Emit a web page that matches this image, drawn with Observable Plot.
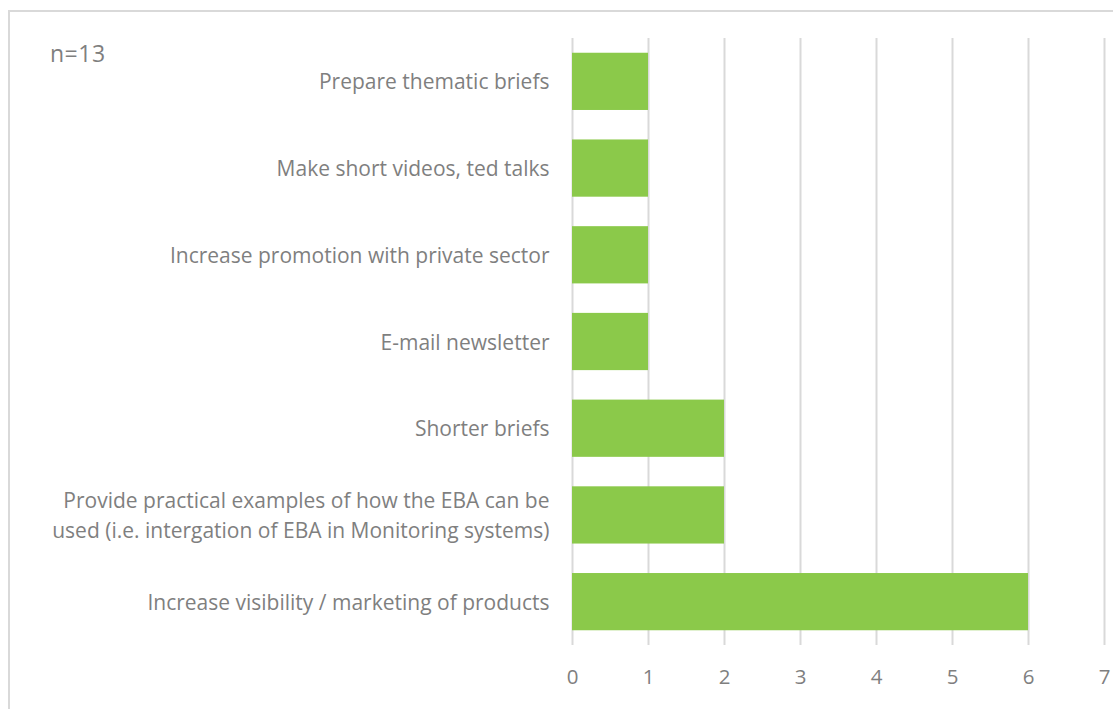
<!DOCTYPE html>
<html>
<head>
<meta charset="utf-8">
<script src="https://cdn.jsdelivr.net/npm/d3@7"></script>
<script src="https://cdn.jsdelivr.net/npm/@observablehq/plot@0.6"></script>
<style>
  html, body { margin: 0; padding: 0; background: #fff; }
  #wrap { position: relative; width: 1113px; height: 709px; overflow: hidden; }
  #frame { position: absolute; left: 8px; top: 10px; width: 1120px; height: 720px;
           border-top: 2px solid #d9d9d9; border-left: 2px solid #d9d9d9; box-sizing: border-box; }
  #note { position: absolute; left: 50px; top: 40px; font-family: "Open Sans", sans-serif; font-size: 23px; color: #7f7f7f; line-height: 1.2; letter-spacing: 0.5px; }
  #chart { position: absolute; left: 0; top: 0; }
</style>
</head>
<body>
<div id="wrap">
  <div id="frame"></div>
  <div id="chart"></div>
  <div id="note">n=13</div>
</div>
<script>
const categories = [
  "Prepare thematic briefs",
  "Make short videos, ted talks",
  "Increase promotion with private sector",
  "E-mail newsletter",
  "Shorter briefs",
  "Provide practical examples of how the EBA can be\nused (i.e. intergation of EBA in Monitoring systems)",
  "Increase visibility / marketing of products"
];
const values = [1, 1, 1, 1, 2, 2, 6];
const xTicks = [0, 1, 2, 3, 4, 5, 6, 7];

const data = categories.map((c, i) => ({category: c, value: values[i]}));

const chart = Plot.plot({
  width: 1113,
  height: 709,
  marginLeft: 572,
  marginRight: 9,
  marginTop: 38,
  marginBottom: 64,
  style: {fontFamily: "'Open Sans', sans-serif", fontSize: "21px", color: "#7f7f7f", background: "transparent", overflow: "visible"},
  x: {domain: [0, 7], ticks: xTicks, tickFormat: d => String(d), label: null},
  y: {domain: categories, paddingInner: 0.34, paddingOuter: 0.17, round: false, label: null},
  marks: [
    Plot.gridX(xTicks, {stroke: "#d9d9d9", strokeWidth: 2, strokeOpacity: 1}),
    Plot.barX(data, {x: "value", y: "category", fill: "#8bc94a"}),
    Plot.axisX({ticks: xTicks, tickFormat: d => String(d), tickSize: 0, tickPadding: 24, fontSize: 20.5, fill: "#7f7f7f", label: null}),
    Plot.axisY({tickSize: 0, tickPadding: 23, dy: -2, fontSize: 21, fill: "#7f7f7f", label: null, lineHeight: 1.43})
  ]
});
document.getElementById("chart").appendChild(chart);
</script>
</body>
</html>
